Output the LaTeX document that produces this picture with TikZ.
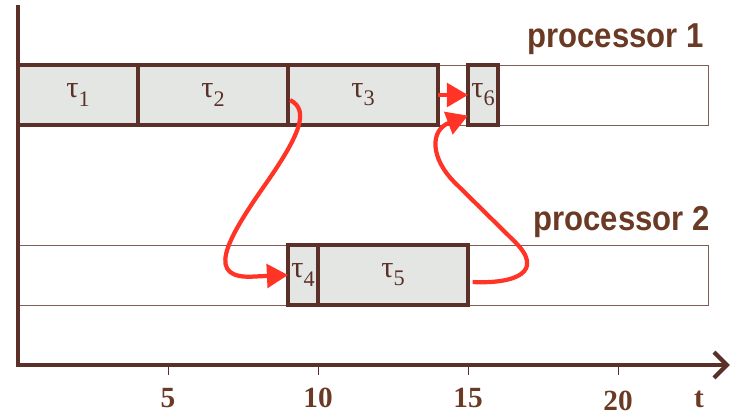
\documentclass[tikz,border=0pt]{standalone}
\usepackage{fontspec}
\usetikzlibrary{arrows.meta}
\newfontfamily\procfont[FakeStretch=0.9]{Liberation Sans}
\newfontfamily\numfont{Liberation Serif}
\definecolor{brownline}{HTML}{5A3028}
\definecolor{brownlabel}{HTML}{6B3A24}
\definecolor{rowline}{HTML}{7D5F58}
\definecolor{taskgray}{HTML}{E4E6E4}
\definecolor{flowred}{HTML}{FF3326}
\tikzset{
	lane/.style={draw=rowline,line width=.8pt,fill=white,anchor=south west,minimum height=1.8cm,inner sep=0pt,outer sep=0pt},
	task/.style={draw=brownline,line width=3.4pt,fill=taskgray,anchor=south west,minimum height=1.8cm,inner sep=0pt,outer sep=0pt,text=brownline,font=\numfont\fontsize{26}{30}\selectfont},
	flow/.style={draw=flowred,line width=3.6pt,-{Triangle[length=18pt,width=20pt]}},
	axis/.style={draw=brownline,line width=3.6pt},
	tick/.style={draw=brownline,line width=.8pt},
	num/.style={text=brownlabel,font=\numfont\bfseries\fontsize{25}{28}\selectfont,anchor=base,inner sep=0pt},
	proc/.style={text=brownlabel,font=\procfont\bfseries\fontsize{29.5}{34}\selectfont,anchor=base east,inner sep=0pt}
}
\newcommand{\tausub}[1]{τ\raisebox{-7pt}{\fontsize{19}{20}\selectfont #1}}
\newcommand{\drawtask}[5]
{\node[task,minimum width={(#3-#2)*.9cm}] (#1) at (#2,#4) {\tausub{#5}};
}
\newcommand{\drawtaxis}[3]
{\draw[axis,-{Straight Barb[length=11pt,width=22pt]}] (0,#1) -- (0,0) -- (#2,0);
\foreach \x in {#3}
		{\draw[tick] (\x,0) -- (\x,-.33);
			};
}
\begin{document}
\begin{tikzpicture}[x={(.9cm,0)},y={(0,.9cm)}]
	\useasboundingbox (-.6,-1.667) rectangle (23.767,12.167);
	\node[lane,minimum width=20.7cm] (lane1) at (0,8) {};
	\node[lane,minimum width=20.7cm] (lane2) at (0,2) {};
	\node[proc] (proc1) at (22.87,10.6) {processor 1};
	\node[proc] (proc2) at (23.07,4.5) {processor 2};
	\drawtask{t1}{0}{4}{8}{1}
	\drawtask{t2}{4}{9}{8}{2}
	\drawtask{t3}{9}{14}{8}{3}
	\drawtask{t6}{15}{16}{8}{6}
	\drawtask{t4}{9}{10}{2}{4}
	\drawtask{t5}{10}{15}{2}{5}
	\drawtaxis{12}{23.73}{5,10,15,20};
	\foreach \x/\y in {5/-1.4,10/-1.4,15/-1.4,20/-1.5}
		{\node[num] (n\x) at (\x,\y) {\x};
			};
	\node[num] (tlabel) at (22.7,-1.4) {t};
	\draw[flow] (t3.east) -- (t6.west);
	\draw[flow] ([shift={(.07,-.17)}]t3.west) .. controls (9.73,8.5) and (9.4,7.67) .. (8.23,6) .. controls (6.9,4.1) and (6.23,2.83) .. (7.9,2.95) -- (t4.west);
	\draw[flow] ([xshift=4pt,yshift=-6pt]t5.east) .. controls (16.57,2.7) and (17.57,3.1) .. (16.57,4.1) -- (14.57,6.07) .. controls (13.73,6.9) and (13.73,7.83) .. ([yshift=8pt]t6.south west);
\end{tikzpicture}
\end{document}
